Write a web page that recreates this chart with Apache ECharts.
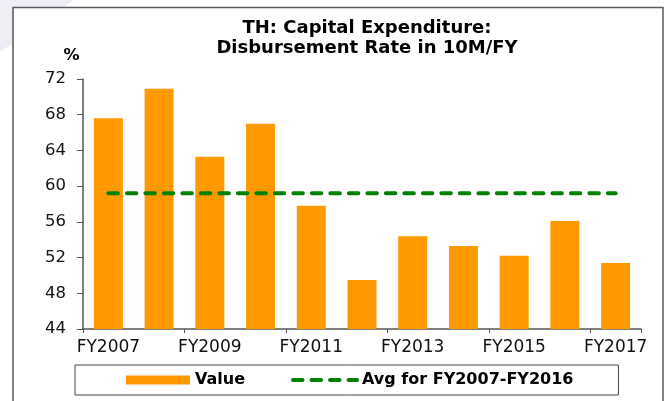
<!DOCTYPE html>
<html>
<head>
<meta charset="utf-8">
<script src="https://cdn.jsdelivr.net/npm/echarts@6/dist/echarts.min.js"></script>
<style>
  html, body { margin: 0; padding: 0; background: #fff; }
  #chart { width: 667px; height: 401px; }
</style>
</head>
<body>
<div id="chart"></div>
<script>
// 数据
const years = ['FY2007', 'FY2008', 'FY2009', 'FY2010', 'FY2011', 'FY2012',
  'FY2013', 'FY2014', 'FY2015', 'FY2016', 'FY2017']
const rateValues = [67.6, 70.9, 63.3, 67.0, 57.8, 49.5, 54.4, 53.3, 52.2, 56.1, 51.4]
const avgValues = [59.2, 59.2, 59.2, 59.2, 59.2, 59.2, 59.2, 59.2, 59.2, 59.2, 59.2]
const yTicks = { min: 44, max: 72, interval: 4 }

const font = 'DejaVu Sans'
const chart = echarts.init(document.getElementById('chart'), null, { renderer: 'canvas' })

const option = {
  backgroundColor: '#fff',
  animation: false,
  textStyle: { fontFamily: font },
  // 背景和外框
  graphic: [
    {
      type: 'polygon',
      z: -2,
      shape: { points: [[0, 0], [74, 0], [0, 52]] },
      style: { fill: '#ededf5' },
    },
    {
      type: 'rect',
      z: -1,
      shape: { x: 13, y: 7.5, width: 650, height: 700 },
      style: { fill: '#fff', stroke: '#5a5a5a', lineWidth: 1.5 },
    },
  ],
  title: {
    text: 'TH: Capital Expenditure:\nDisbursement Rate in 10M/FY',
    left: 367,
    top: 18,
    textAlign: 'center',
    padding: 0,
    textStyle: {
      fontFamily: font,
      fontSize: 18,
      fontWeight: 'bold',
      lineHeight: 20,
      color: '#000',
    },
  },
  grid: {
    left: 83,
    right: 26,
    top: 79,
    bottom: 72,
    containLabel: false,
  },
  legend: {
    left: 75,
    top: 365,
    padding: [7, 45, 7, 51],
    itemWidth: 64,
    itemHeight: 9,
    itemGap: 46,
    borderColor: '#444',
    borderWidth: 1,
    textStyle: { fontFamily: font, fontSize: 16, fontWeight: 'bold', color: '#000' },
    data: [
      { name: 'Value', icon: 'rect' },
      {
        name: 'Avg for FY2007-FY2016',
        itemStyle: { opacity: 0 },
        lineStyle: { width: 4 },
      },
    ],
  },
  xAxis: {
    type: 'category',
    data: years,
    boundaryGap: true,
    axisLine: { lineStyle: { color: '#555', width: 1.5 } },
    axisTick: { show: true, length: 4, lineStyle: { color: '#555' } },
    axisLabel: {
      interval: 1,
      margin: 10,
      fontFamily: font,
      fontSize: 17,
      color: '#111',
    },
  },
  yAxis: {
    type: 'value',
    min: yTicks.min,
    max: yTicks.max,
    interval: yTicks.interval,
    name: '%',
    nameLocation: 'end',
    nameGap: 15,
    nameTextStyle: {
      fontFamily: font,
      fontSize: 16,
      fontWeight: 'bold',
      color: '#000',
      padding: [0, 23, 0, 0],
    },
    splitLine: { show: false },
    axisLine: { show: true, lineStyle: { color: '#555', width: 1.5 } },
    axisTick: { show: true, length: 6, lineStyle: { color: '#555' } },
    axisLabel: {
      margin: 17,
      fontFamily: font,
      fontSize: 16.5,
      color: '#111',
    },
  },
  series: [
    {
      name: 'Value',
      type: 'bar',
      data: rateValues,
      barWidth: 29,
      itemStyle: { color: '#ff9900' },
    },
    {
      name: 'Avg for FY2007-FY2016',
      type: 'line',
      data: avgValues,
      symbol: 'none',
      lineStyle: { color: '#008000', width: 4, type: [9.5, 9], cap: 'round' },
      itemStyle: { color: '#008000' },
    },
  ],
}

chart.setOption(option)
</script>
</body>
</html>
